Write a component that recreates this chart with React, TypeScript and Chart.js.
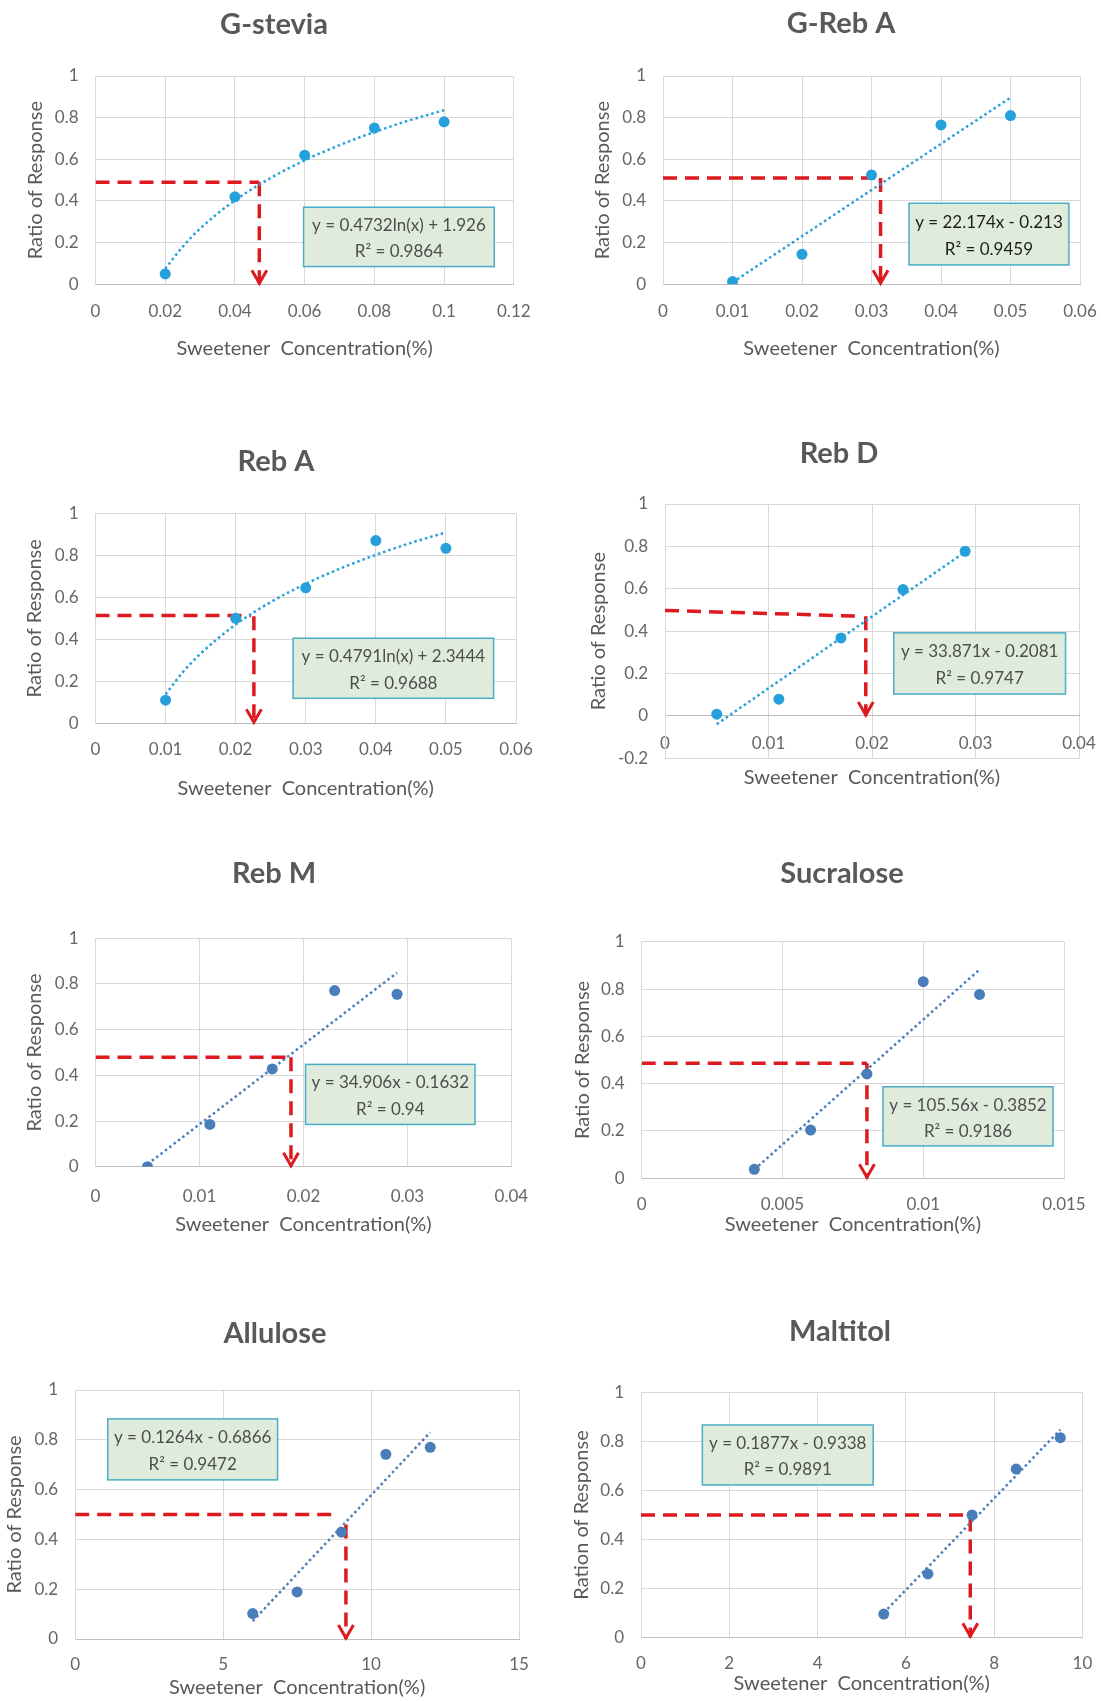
import React, { useEffect, useRef } from "react";
import { Chart, registerables } from "chart.js";

Chart.register(...registerables);

// ---------------- data ----------------
const X_TITLE = "Sweetener  Concentration(%)";
const Y_TITLE = "Ratio of Response";
const Y_TITLE_MALTITOL = "Ration of Response";

const respTicks = [0, 0.2, 0.4, 0.6, 0.8, 1];
const respTicksRebD = [-0.2, 0, 0.2, 0.4, 0.6, 0.8, 1];

// G-stevia
const gsteviaConc = [0.02, 0.04, 0.06, 0.08, 0.1];
const gsteviaResp = [0.05, 0.42, 0.62, 0.75, 0.78];
const gsteviaTrendConc = [0.02, 0.025, 0.03, 0.04, 0.05, 0.06, 0.07, 0.08, 0.09, 0.1];
const gsteviaTrendResp = [0.075, 0.18, 0.267, 0.403, 0.508, 0.595, 0.668, 0.731, 0.787, 0.836];
const gsteviaGuideHConc = [0, 0.047];
const gsteviaGuideHResp = [0.49, 0.49];
const gsteviaGuideVConc = [0.047, 0.047];
const gsteviaGuideVResp = [0.49, 0];
const gsteviaEq = ["y = 0.4732ln(x) + 1.926", "R² = 0.9864"];
const gsteviaXTicks = [0, 0.02, 0.04, 0.06, 0.08, 0.1, 0.12];

// G-Reb A
const grebaConc = [0.01, 0.02, 0.03, 0.04, 0.05];
const grebaResp = [0.013, 0.144, 0.525, 0.765, 0.81];
const grebaTrendConc = [0.01, 0.05];
const grebaTrendResp = [0.009, 0.896];
const grebaGuideHConc = [0, 0.0313];
const grebaGuideHResp = [0.51, 0.51];
const grebaGuideVConc = [0.0313, 0.0313];
const grebaGuideVResp = [0.51, 0];
const grebaEq = ["y = 22.174x - 0.213", "R² = 0.9459"];
const grebaXTicks = [0, 0.01, 0.02, 0.03, 0.04, 0.05, 0.06];

// Reb A
const rebaConc = [0.01, 0.02, 0.03, 0.04, 0.05];
const rebaResp = [0.11, 0.5, 0.645, 0.87, 0.833];
const rebaTrendConc = [0.01, 0.0125, 0.015, 0.02, 0.025, 0.03, 0.035, 0.04, 0.045, 0.05];
const rebaTrendResp = [0.138, 0.245, 0.332, 0.47, 0.577, 0.664, 0.738, 0.802, 0.859, 0.909];
const rebaGuideHConc = [0, 0.0222];
const rebaGuideHResp = [0.513, 0.513];
const rebaGuideVConc = [0.0226, 0.0226];
const rebaGuideVResp = [0.51, 0];
const rebaEq = ["y = 0.4791ln(x) + 2.3444", "R² = 0.9688"];
const rebaXTicks = [0, 0.01, 0.02, 0.03, 0.04, 0.05, 0.06];

// Reb D
const rebdConc = [0.005, 0.011, 0.017, 0.023, 0.029];
const rebdResp = [0.008, 0.079, 0.368, 0.596, 0.777];
const rebdTrendConc = [0.005, 0.029];
const rebdTrendResp = [-0.039, 0.774];
const rebdGuideHConc = [0, 0.019];
const rebdGuideHResp = [0.498, 0.47];
const rebdGuideVConc = [0.0194, 0.0194];
const rebdGuideVResp = [0.47, 0];
const rebdEq = ["y = 33.871x - 0.2081", "R² = 0.9747"];
const rebdXTicks = [0, 0.01, 0.02, 0.03, 0.04];

// Reb M
const rebmConc = [0.005, 0.011, 0.017, 0.023, 0.029];
const rebmResp = [0.0, 0.185, 0.428, 0.771, 0.755];
const rebmTrendConc = [0.005, 0.029];
const rebmTrendResp = [0.011, 0.849];
const rebmGuideHConc = [0, 0.0188];
const rebmGuideHResp = [0.479, 0.479];
const rebmGuideVConc = [0.0188, 0.0188];
const rebmGuideVResp = [0.479, 0];
const rebmEq = ["y = 34.906x - 0.1632", "R² = 0.94"];
const rebmXTicks = [0, 0.01, 0.02, 0.03, 0.04];

// Sucralose
const sucraloseConc = [0.004, 0.006, 0.008, 0.01, 0.012];
const sucraloseResp = [0.038, 0.204, 0.441, 0.831, 0.777];
const sucraloseTrendConc = [0.004, 0.012];
const sucraloseTrendResp = [0.037, 0.882];
const sucraloseGuideHConc = [0, 0.008];
const sucraloseGuideHResp = [0.486, 0.486];
const sucraloseGuideVConc = [0.008, 0.008];
const sucraloseGuideVResp = [0.486, 0];
const sucraloseEq = ["y = 105.56x - 0.3852", "R² = 0.9186"];
const sucraloseXTicks = [0, 0.005, 0.01, 0.015];

// Allulose
const alluloseConc = [6, 7.5, 9, 10.5, 12];
const alluloseResp = [0.102, 0.189, 0.429, 0.742, 0.77];
const alluloseTrendConc = [6, 12];
const alluloseTrendResp = [0.072, 0.83];
const alluloseGuideHConc = [0, 8.76];
const alluloseGuideHResp = [0.5, 0.5];
const alluloseGuideVConc = [9.15, 9.15];
const alluloseGuideVResp = [0.46, 0];
const alluloseEq = ["y = 0.1264x - 0.6866", "R² = 0.9472"];
const alluloseXTicks = [0, 5, 10, 15];

// Maltitol
const maltitolConc = [5.5, 6.5, 7.5, 8.5, 9.5];
const maltitolResp = [0.095, 0.259, 0.5, 0.688, 0.816];
const maltitolTrendConc = [5.5, 9.5];
const maltitolTrendResp = [0.1, 0.849];
const maltitolGuideHConc = [0, 7.5];
const maltitolGuideHResp = [0.5, 0.5];
const maltitolGuideVConc = [7.46, 7.46];
const maltitolGuideVResp = [0.49, 0];
const maltitolEq = ["y = 0.1877x - 0.9338", "R² = 0.9891"];
const maltitolXTicks = [0, 2, 4, 6, 8, 10];

// ---------------- styles ----------------
const FONT = "Lato, 'Open Sans', sans-serif";
const TITLE_SIZE = 29;
const AXIS_TITLE_SIZE = 20;
const TICK_SIZE = 17;
const EQ_SIZE = 17;
const TEXT = "#595959";
const TICK = "#666666";
const GRID = "#d9d9d9";
const AXIS = "#bfbfbf";
const RED = "#dc1a1f";
const SKY = "#25a0da";
const STEEL = "#4a7ebb";
const BOX_FILL = "#dfecdb";
const BOX_BORDER = "#4bacc6";

type Geo = {
  cl: number; cr: number; ct: number; cb: number;
  al: number; ar: number; at: number; ab: number;
  titleY: number; yTitleX: number; xTitleY: number; xTickY: number;
};

type Panel = {
  title: string;
  yTitle: string;
  conc: number[]; resp: number[];
  trendConc: number[]; trendResp: number[];
  hConc: number[]; hResp: number[];
  vConc: number[]; vResp: number[];
  eq: string[];
  xTicks: number[]; yTicks: number[];
  color: string; eqColor: string;
  box: number[];
  geo: Geo;
};

const panels: Panel[] = [
  {
    title: "G-stevia", yTitle: Y_TITLE,
    conc: gsteviaConc, resp: gsteviaResp, trendConc: gsteviaTrendConc, trendResp: gsteviaTrendResp,
    hConc: gsteviaGuideHConc, hResp: gsteviaGuideHResp, vConc: gsteviaGuideVConc, vResp: gsteviaGuideVResp,
    eq: gsteviaEq, xTicks: gsteviaXTicks, yTicks: respTicks, color: SKY, eqColor: "#4d4d4d",
    box: [0.0597, 0.37, 0.1144, 0.085],
    geo: { cl: 0, cr: 548, ct: 0, cb: 380, al: 95.5, ar: 513.8, at: 76, ab: 284.3, titleY: 25, yTitleX: 36, xTitleY: 349, xTickY: 311.7 },
  },
  {
    title: "G-Reb A", yTitle: Y_TITLE,
    conc: grebaConc, resp: grebaResp, trendConc: grebaTrendConc, trendResp: grebaTrendResp,
    hConc: grebaGuideHConc, hResp: grebaGuideHResp, vConc: grebaGuideVConc, vResp: grebaGuideVResp,
    eq: grebaEq, xTicks: grebaXTicks, yTicks: respTicks, color: SKY, eqColor: "#1e1e1e",
    box: [0.0354, 0.389, 0.0584, 0.093],
    geo: { cl: 560, cr: 1122, ct: 0, cb: 380, al: 663, ar: 1080, at: 76, ab: 284.3, titleY: 24, yTitleX: 603, xTitleY: 349, xTickY: 311.7 },
  },
  {
    title: "Reb A", yTitle: Y_TITLE,
    conc: rebaConc, resp: rebaResp, trendConc: rebaTrendConc, trendResp: rebaTrendResp,
    hConc: rebaGuideHConc, hResp: rebaGuideHResp, vConc: rebaGuideVConc, vResp: rebaGuideVResp,
    eq: rebaEq, xTicks: rebaXTicks, yTicks: respTicks, color: SKY, eqColor: "#4d4d4d",
    box: [0.0282, 0.405, 0.0568, 0.119],
    geo: { cl: 0, cr: 552, ct: 410, cb: 820, al: 95.5, ar: 516, at: 513.3, ab: 723.3, titleY: 461.7, yTitleX: 35, xTitleY: 788.5, xTickY: 750 },
  },
  {
    title: "Reb D", yTitle: Y_TITLE,
    conc: rebdConc, resp: rebdResp, trendConc: rebdTrendConc, trendResp: rebdTrendResp,
    hConc: rebdGuideHConc, hResp: rebdGuideHResp, vConc: rebdGuideVConc, vResp: rebdGuideVResp,
    eq: rebdEq, xTicks: rebdXTicks, yTicks: respTicksRebD, color: SKY, eqColor: "#4d4d4d",
    box: [0.0221, 0.392, 0.0387, 0.103],
    geo: { cl: 560, cr: 1118, ct: 410, cb: 820, al: 665, ar: 1079, at: 504, ab: 758.3, titleY: 453.3, yTitleX: 599, xTitleY: 778, xTickY: 743.3 },
  },
  {
    title: "Reb M", yTitle: Y_TITLE,
    conc: rebmConc, resp: rebmResp, trendConc: rebmTrendConc, trendResp: rebmTrendResp,
    hConc: rebmGuideHConc, hResp: rebmGuideHResp, vConc: rebmGuideVConc, vResp: rebmGuideVResp,
    eq: rebmEq, xTicks: rebmXTicks, yTicks: respTicks, color: STEEL, eqColor: "#4d4d4d",
    box: [0.0202, 0.448, 0.0365, 0.185],
    geo: { cl: 0, cr: 548, ct: 840, cb: 1260, al: 95.5, ar: 513.8, at: 938.3, ab: 1166.7, titleY: 873.3, yTitleX: 35, xTitleY: 1225, xTickY: 1196.7 },
  },
  {
    title: "Sucralose", yTitle: Y_TITLE,
    conc: sucraloseConc, resp: sucraloseResp, trendConc: sucraloseTrendConc, trendResp: sucraloseTrendResp,
    hConc: sucraloseGuideHConc, hResp: sucraloseGuideHResp, vConc: sucraloseGuideVConc, vResp: sucraloseGuideVResp,
    eq: sucraloseEq, xTicks: sucraloseXTicks, yTicks: respTicks, color: STEEL, eqColor: "#4d4d4d",
    box: [0.00857, 0.387, 0.01461, 0.137],
    geo: { cl: 560, cr: 1124, ct: 840, cb: 1260, al: 641.7, ar: 1064, at: 941.7, ab: 1178.3, titleY: 874, yTitleX: 583, xTitleY: 1225, xTickY: 1205 },
  },
  {
    title: "Allulose", yTitle: Y_TITLE,
    conc: alluloseConc, resp: alluloseResp, trendConc: alluloseTrendConc, trendResp: alluloseTrendResp,
    hConc: alluloseGuideHConc, hResp: alluloseGuideHResp, vConc: alluloseGuideVConc, vResp: alluloseGuideVResp,
    eq: alluloseEq, xTicks: alluloseXTicks, yTicks: respTicks, color: STEEL, eqColor: "#4d4d4d",
    box: [1.1, 0.884, 6.84, 0.639],
    geo: { cl: 0, cr: 550, ct: 1280, cb: 1701, al: 75.2, ar: 519, at: 1390, ab: 1639, titleY: 1333.3, yTitleX: 14.5, xTitleY: 1688, xTickY: 1665 },
  },
  {
    title: "Maltitol", yTitle: Y_TITLE_MALTITOL,
    conc: maltitolConc, resp: maltitolResp, trendConc: maltitolTrendConc, trendResp: maltitolTrendResp,
    hConc: maltitolGuideHConc, hResp: maltitolGuideHResp, vConc: maltitolGuideVConc, vResp: maltitolGuideVResp,
    eq: maltitolEq, xTicks: maltitolXTicks, yTicks: respTicks, color: STEEL, eqColor: "#4d4d4d",
    box: [1.39, 0.868, 5.26, 0.623],
    geo: { cl: 560, cr: 1120, ct: 1280, cb: 1701, al: 641, ar: 1082.4, at: 1392.7, ab: 1637.3, titleY: 1331.7, yTitleX: 582, xTitleY: 1684, xTickY: 1663.3 },
  },
];

// ---------------- helpers ----------------
function pts(xs: number[], ys: number[]) {
  return xs.map((x, i) => ({ x, y: ys[i] }));
}

const tickFmt = (v: any) => String(Number(Number(v).toFixed(4)));
const setTicks = (arr: number[]) => (s: any) => {
  s.ticks = arr.map((v) => ({ value: v }));
};

const annotatePlugin = {
  id: "annotate",
  afterDatasetsDraw(chart: any, _args: any, opts: any) {
    const { ctx } = chart;
    const x = chart.scales.x;
    const y = chart.scales.y;
    // arrow head at end of vertical guide
    const meta = chart.getDatasetMeta(3);
    const last = meta.data[meta.data.length - 1];
    if (last) {
      const px = last.x;
      const py = last.y;
      ctx.save();
      ctx.strokeStyle = RED;
      ctx.lineWidth = 3;
      ctx.lineJoin = "miter";
      ctx.beginPath();
      ctx.moveTo(px - 7.5, py - 14);
      ctx.lineTo(px, py - 1);
      ctx.lineTo(px + 7.5, py - 14);
      ctx.stroke();
      ctx.restore();
    }
    // equation box
    const [bx0, by0, bx1, by1] = opts.box;
    const l = x.getPixelForValue(bx0);
    const r = x.getPixelForValue(bx1);
    const t = y.getPixelForValue(by0);
    const b = y.getPixelForValue(by1);
    ctx.save();
    ctx.fillStyle = BOX_FILL;
    ctx.fillRect(l, t, r - l, b - t);
    ctx.strokeStyle = BOX_BORDER;
    ctx.lineWidth = 1.5;
    ctx.strokeRect(l, t, r - l, b - t);
    ctx.fillStyle = opts.color;
    ctx.font = `${EQ_SIZE}px ${FONT}`;
    ctx.textAlign = "center";
    ctx.textBaseline = "middle";
    const cx = (l + r) / 2;
    const h = b - t;
    ctx.fillText(opts.lines[0], cx, t + h * 0.31);
    ctx.fillText(opts.lines[1], cx, t + h * 0.75);
    ctx.restore();
  },
};

function buildConfig(p: Panel): any {
  const g = p.geo;
  const yMin = p.yTicks[0];
  const yMax = p.yTicks[p.yTicks.length - 1];
  const xMin = p.xTicks[0];
  const xMax = p.xTicks[p.xTicks.length - 1];
  const negative = yMin < 0;
  const zeroPix = g.at + ((g.ab - g.at) * (yMax - 0)) / (yMax - yMin);
  const axLH = AXIS_TITLE_SIZE * 1.2;
  const tickLH = TICK_SIZE * 1.2;
  const titleLH = TITLE_SIZE * 1.2;

  const xTitle = {
    display: true,
    text: X_TITLE,
    color: TEXT,
    font: { size: AXIS_TITLE_SIZE, family: FONT },
    padding: { top: 0, bottom: g.cb - g.xTitleY - axLH / 2 },
  };

  const scales: any = {
    x: {
      type: "linear",
      position: negative ? { y: 0 } : "bottom",
      min: xMin,
      max: xMax,
      afterBuildTicks: setTicks(p.xTicks),
      ticks: {
        callback: tickFmt,
        color: TICK,
        font: { size: TICK_SIZE, family: FONT },
        padding: g.xTickY - zeroPix - tickLH / 2,
        maxRotation: 0,
        autoSkip: false,
      },
      grid: { color: GRID, drawTicks: false, lineWidth: 1 },
      border: { color: AXIS, width: 1 },
      title: negative ? { display: false } : xTitle,
      afterFit: (s: any) => {
        s.height = g.cb - g.ab;
      },
    },
    y: {
      type: "linear",
      position: "left",
      min: yMin,
      max: yMax,
      afterBuildTicks: setTicks(p.yTicks),
      ticks: {
        callback: tickFmt,
        color: TICK,
        font: { size: TICK_SIZE, family: FONT },
        padding: 17,
        autoSkip: false,
      },
      grid: { color: GRID, drawTicks: false, lineWidth: 1 },
      border: { color: GRID, width: 1 },
      title: {
        display: true,
        text: p.yTitle,
        color: TEXT,
        font: { size: AXIS_TITLE_SIZE, family: FONT },
        padding: { top: g.yTitleX - g.cl - axLH / 2, bottom: 0 },
      },
      afterFit: (s: any) => {
        s.width = g.al - g.cl;
      },
    },
    pad: {
      type: "linear",
      position: "right",
      ticks: { display: false },
      grid: { display: false, drawTicks: false },
      border: { display: false },
      afterFit: (s: any) => {
        s.width = g.cr - g.ar;
      },
    },
  };
  if (negative) {
    scales.xb = {
      type: "linear",
      position: "bottom",
      min: xMin,
      max: xMax,
      ticks: { display: false },
      grid: { display: false, drawTicks: false },
      border: { display: false },
      title: xTitle,
      afterFit: (s: any) => {
        s.height = g.cb - g.ab;
      },
    };
  }

  return {
    type: "scatter",
    data: {
      datasets: [
        {
          type: "scatter",
          data: pts(p.conc, p.resp),
          backgroundColor: p.color,
          borderColor: p.color,
          pointRadius: 5.5,
          pointHoverRadius: 5.5,
          borderWidth: 0,
        },
        {
          type: "line",
          data: pts(p.trendConc, p.trendResp),
          borderColor: p.color,
          borderWidth: 2.5,
          borderDash: [2.5, 3],
          pointRadius: 0,
          fill: false,
          cubicInterpolationMode: "monotone",
        },
        {
          type: "line",
          data: pts(p.hConc, p.hResp),
          borderColor: RED,
          borderWidth: 3.5,
          borderDash: [14, 8],
          pointRadius: 0,
          fill: false,
        },
        {
          type: "line",
          data: pts(p.vConc, p.vResp),
          borderColor: RED,
          borderWidth: 3.5,
          borderDash: [14, 8],
          pointRadius: 0,
          fill: false,
        },
      ],
    },
    options: {
      responsive: false,
      animation: false,
      events: [],
      devicePixelRatio: 1,
      layout: { padding: 0 },
      scales,
      plugins: {
        legend: { display: false },
        tooltip: { enabled: false },
        title: {
          display: true,
          text: p.title,
          color: TEXT,
          font: { size: TITLE_SIZE, weight: "bold", family: FONT, lineHeight: 1.2 },
          padding: { top: g.titleY - g.ct - titleLH / 2, bottom: g.at - g.titleY - titleLH / 2 },
        },
        annotate: { box: p.box, lines: p.eq, color: p.eqColor },
      },
    },
    plugins: [annotatePlugin],
  };
}

function PanelChart({ p }: { p: Panel }) {
  const ref = useRef<HTMLCanvasElement>(null);
  useEffect(() => {
    if (!ref.current) return;
    const chart = new Chart(ref.current, buildConfig(p));
    return () => chart.destroy();
  }, [p]);
  const g = p.geo;
  const w = g.cr - g.cl;
  const h = g.cb - g.ct;
  return (
    <canvas
      ref={ref}
      width={w}
      height={h}
      style={{ position: "absolute", left: g.cl, top: g.ct, width: w, height: h }}
    />
  );
}

export default function App() {
  Chart.defaults.font.family = FONT;
  return (
    <div
      style={{
        position: "absolute",
        left: 0,
        top: 0,
        width: 1101,
        height: 1701,
        overflow: "hidden",
        background: "#ffffff",
      }}
    >
      {panels.map((p) => (
        <PanelChart key={p.title} p={p} />
      ))}
    </div>
  );
}
